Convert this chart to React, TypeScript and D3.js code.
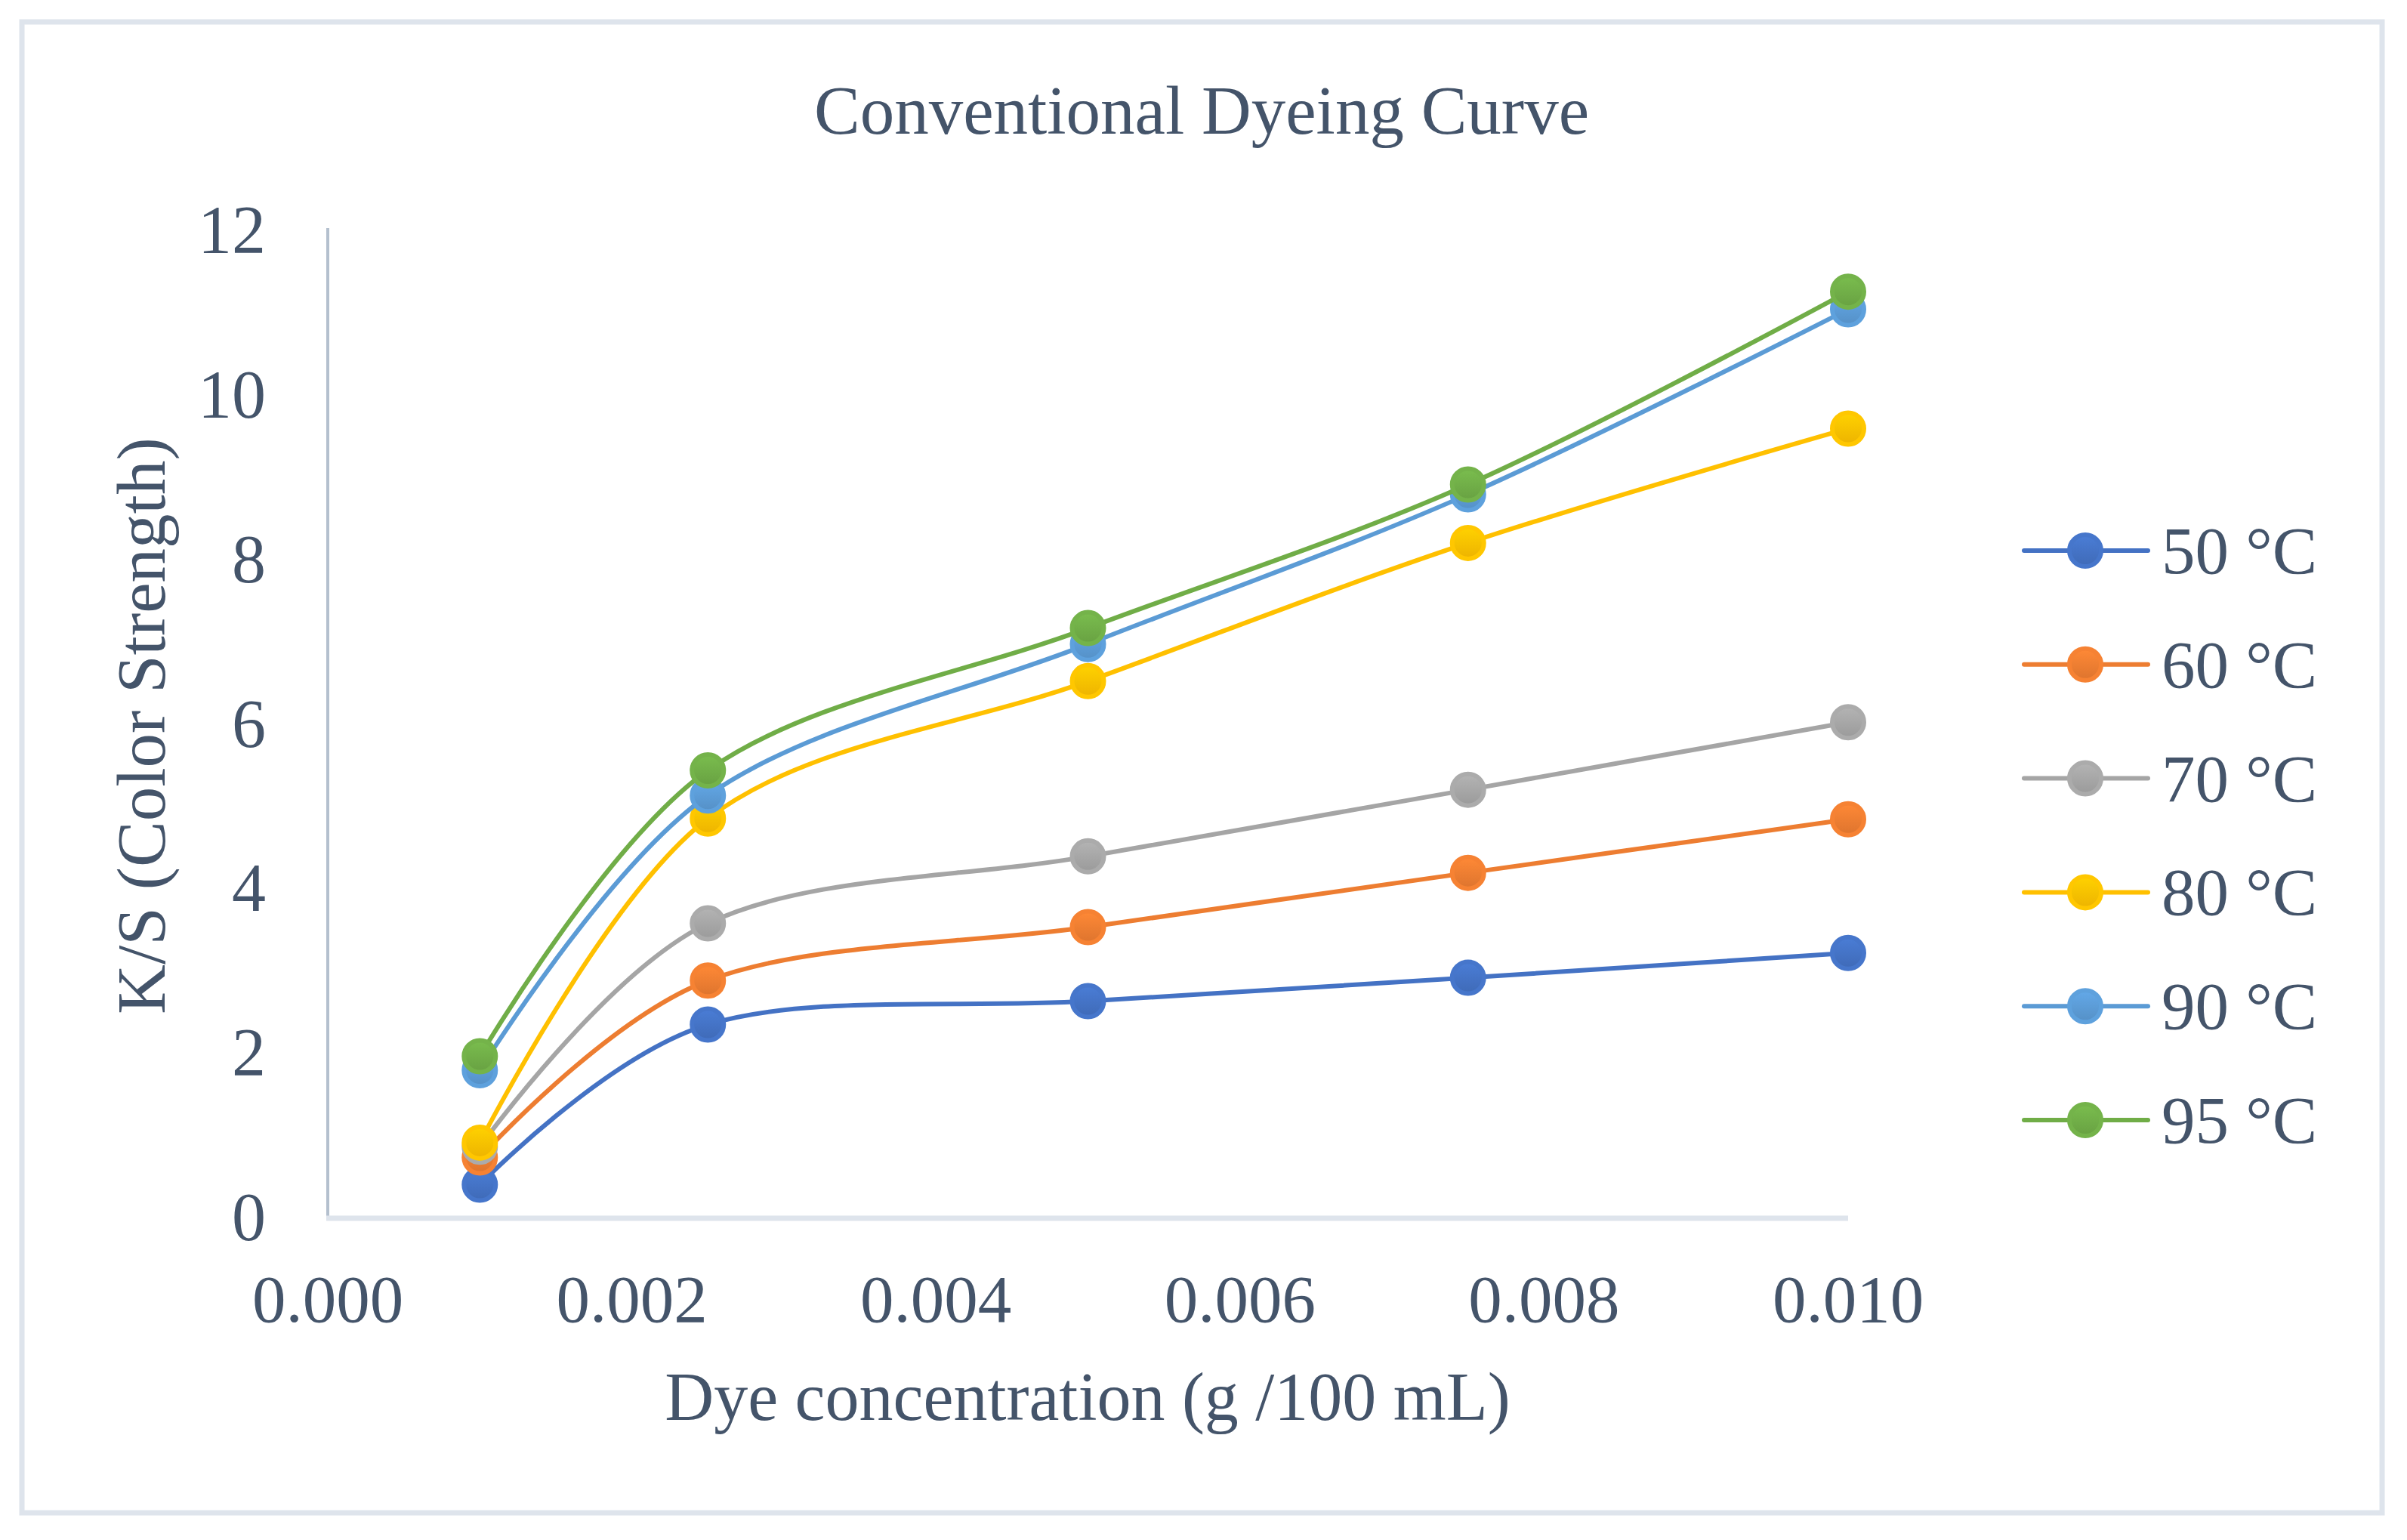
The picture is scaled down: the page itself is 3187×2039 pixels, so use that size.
import React from "react";
import * as d3 from "d3";

const concentrations = [0.001, 0.0025, 0.005, 0.0075, 0.01];
const seriesNames = ["50 °C", "60 °C", "70 °C", "80 °C", "90 °C", "95 °C"];
const seriesColors = ["#4472C4", "#ED7D31", "#A5A5A5", "#FFC000", "#5B9BD5", "#70AD47"];
const ks50 = [0.4, 2.345, 2.63, 2.915, 3.215];
const ks60 = [0.73, 2.88, 3.53, 4.19, 4.84];
const ks70 = [0.86, 3.575, 4.39, 5.2, 6.02];
const ks80 = [0.91, 4.85, 6.52, 8.2, 9.59];
const ks90 = [1.79, 5.13, 6.97, 8.79, 11.04];
const ks95 = [1.96, 5.435, 7.165, 8.91, 11.255];
const seriesValues = [ks50, ks60, ks70, ks80, ks90, ks95];
const xTicks = [0, 0.002, 0.004, 0.006, 0.008, 0.01];
const yTicks = [0, 2, 4, 6, 8, 10, 12];

const W = 3187;
const H = 2039;
const TEXT = "#44546A";
const FONT = "'Liberation Serif', 'Times New Roman', serif";

export default function App() {
  const x = d3.scaleLinear().domain([0, 0.01]).range([434, 2447]);
  const y = d3.scaleLinear().domain([0, 12]).range([1612, 305]);
  const line = d3
    .line<[number, number]>()
    .x((d) => x(d[0]))
    .y((d) => y(d[1]))
    .curve(d3.curveCatmullRom.alpha(0));
  const fmt = d3.format(".3f");
  const legendY = (i: number) => 729 + i * 150.8;

  return (
    <svg
      width={W}
      height={H}
      style={{ position: "absolute", left: 0, top: 0, background: "#fff" }}
      fontFamily={FONT}
    >
      <defs>
        {seriesColors.map((c, i) => (
          <linearGradient key={i} id={`mk${i}`} x1="0" y1="0" x2="0" y2="1">
            <stop offset="0" stopColor={d3.color(c)!.brighter(0.25).formatHex()} />
            <stop offset="1" stopColor={d3.color(c)!.darker(0.2).formatHex()} />
          </linearGradient>
        ))}
      </defs>
      <rect x={0} y={0} width={W} height={H} fill="#fff" />
      <rect x={29} y={29} width={3125} height={1974} fill="none" stroke="#DEE4EC" strokeWidth={7} />

      <text x={1591} y={177} textAnchor="middle" fontSize={91} fill={TEXT}>
        Conventional Dyeing Curve
      </text>

      {/* axes */}
      <line x1={434} x2={434} y1={302} y2={1612} stroke="#B4C0CE" strokeWidth={4} />
      <line x1={432} x2={2447} y1={1613} y2={1613} stroke="#DEE4EC" strokeWidth={7} />

      {yTicks.map((t) => (
        <text key={t} x={352} y={y(t) + 30} textAnchor="end" fontSize={90} fill={TEXT}>
          {t}
        </text>
      ))}
      {xTicks.map((t) => (
        <text key={t} x={x(t)} y={1750} textAnchor="middle" fontSize={89} fill={TEXT}>
          {fmt(t)}
        </text>
      ))}

      <text x={1440} y={1880} textAnchor="middle" fontSize={90} fill={TEXT}>
        Dye concentration (g /100 mL)
      </text>
      <text
        transform={`translate(218, 961) rotate(-90)`}
        textAnchor="middle"
        fontSize={91}
        fill={TEXT}
      >
        K/S (Color Strength)
      </text>

      {/* series */}
      {seriesValues.map((vals, i) => {
        const pts = concentrations.map((c, j) => [c, vals[j]] as [number, number]);
        const c = seriesColors[i];
        return (
          <g key={i}>
            <path d={line(pts) || ""} fill="none" stroke={c} strokeWidth={6} strokeLinecap="round" />
            {pts.map((p, j) => (
              <circle
                key={j}
                cx={x(p[0])}
                cy={y(p[1])}
                r={21}
                fill={`url(#mk${i})`}
                stroke={d3.color(c)!.brighter(0.1).formatHex()}
                strokeWidth={6}
              />
            ))}
          </g>
        );
      })}

      {/* legend */}
      {seriesNames.map((name, i) => {
        const c = seriesColors[i];
        const ly = legendY(i);
        return (
          <g key={name}>
            <line x1={2680} x2={2844} y1={ly} y2={ly} stroke={c} strokeWidth={6} strokeLinecap="round" />
            <circle
              cx={2761}
              cy={ly}
              r={21}
              fill={`url(#mk${i})`}
              stroke={d3.color(c)!.brighter(0.1).formatHex()}
              strokeWidth={6}
            />
            <text x={2862} y={ly + 30} fontSize={89} fill={TEXT}>
              {name}
            </text>
          </g>
        );
      })}
    </svg>
  );
}
